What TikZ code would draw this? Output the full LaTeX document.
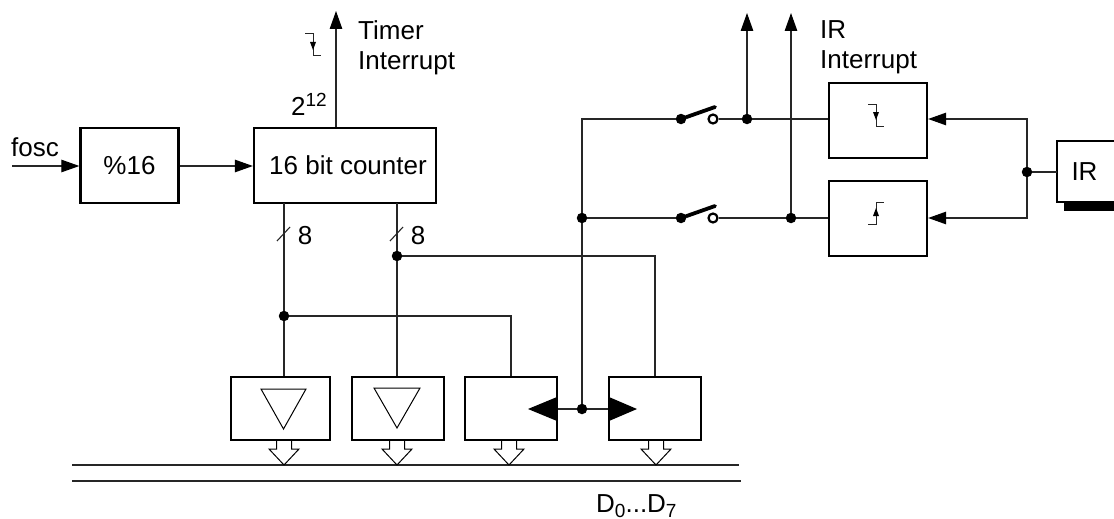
\documentclass[tikz,border=0pt]{standalone}
\usepackage{fontspec}
\setmainfont{Liberation Sans}
\usetikzlibrary{arrows.meta}
\tikzset{
  blk/.style={draw=black, line width=2.3pt, fill=white, inner sep=0pt},
  lbl/.style={font=\fontsize{26}{30}\selectfont, inner sep=0pt, align=left},
  wire/.style={line width=1.1pt, draw=black!85},
  arr/.style={wire, -{Stealth[length=18pt, width=12.5pt, inset=0pt, black]}},
  jdot/.style={circle, fill=black, inner sep=0pt, minimum size=10.5pt},
  opendot/.style={circle, draw=black, line width=2.2pt, fill=white, inner sep=0pt, minimum size=9pt},
  hollow/.style={draw=black, line width=1pt, fill=white},
  edgemark/.style={line width=1pt, draw=black!85}
}
% falling and rising edge signs
\newcommand{\edgefall}[2]{%
  \draw[edgemark] (#1-8,#2-11) -- (#1,#2-11) -- (#1,#2+11) -- (#1+8,#2+11);
  \fill (#1-3,#2-3) -- (#1+3,#2-3) -- (#1,#2+5) -- cycle;}
\newcommand{\edgerise}[2]{%
  \draw[edgemark] (#1-8,#2+11) -- (#1,#2+11) -- (#1,#2-11) -- (#1+8,#2-11);
  \fill (#1-3,#2+3) -- (#1+3,#2+3) -- (#1,#2-5) -- cycle;}
\newcommand{\supnum}[1]{\raisebox{9pt}{\fontsize{19}{19}\selectfont #1}}
\newcommand{\subnum}[1]{\raisebox{-5pt}{\fontsize{19}{19}\selectfont #1}}
\begin{document}
\begin{tikzpicture}[x=1pt, y=-1pt]
\useasboundingbox (0,0) rectangle (1114,519);

% Top row
\node[blk, lbl, minimum width=98pt, minimum height=75pt] (divbox) at (129.5,165.5) {\%16};
\node[blk, lbl, minimum width=182pt, minimum height=75pt] (cntbox) at (345,165.5) {\hspace*{6pt}16 bit counter};
\coordinate (foscin) at (12,166);
\coordinate (timerout) at (336,11);
\draw[arr] (foscin) -- (divbox.west |- foscin);
\draw[arr] (divbox.east |- foscin) -- (cntbox.west |- foscin);
\draw[arr] (cntbox.north -| timerout) -- (timerout);
\node[lbl, anchor=base west] (foscl) at (11,156) {fosc};
\node[lbl, anchor=north west] (timerl) at (358,20) {Timer\\Interrupt};
\node[lbl, anchor=base west] (powl) at (291,115) {2\supnum{12}};
\edgefall{313}{45}

% Drivers and latches
\node[blk, minimum width=99pt, minimum height=63pt] (drva) at (280.5,408.5) {};
\node[blk, minimum width=92pt, minimum height=63pt] (drvb) at (398,408.5) {};
\node[blk, minimum width=92pt, minimum height=63pt] (lata) at (511,408.5) {};
\node[blk, minimum width=92pt, minimum height=63pt] (latb) at (655,408.5) {};
\draw[line width=1pt] (261,389) -- (306,389) -- (283.5,429) -- cycle;
\draw[line width=1pt] (374,388) -- (420,388) -- (397,428) -- cycle;
\fill (557,397) -- (557,421) -- (528,409) -- cycle;
\fill (609,397) -- (609,421) -- (637,409) -- cycle;

% Counter outputs
\coordinate (lowa) at (284,203);
\coordinate (lowb) at (397,203);
\node[jdot] (dota) at (284,316) {};
\node[jdot] (dotb) at (397,256) {};
\draw[wire] (lowa) -- (dota) -- (dota |- drva.north);
\draw[wire] (lowb) -- (dotb) -- (dotb |- drvb.north);
\draw[wire] (dota) -| (lata.north);
\draw[wire] (dotb) -| (latb.north);
\draw[wire] (277,241) -- (290,227);
\draw[wire] (390,241) -- (403,227);
\node[lbl] (numa) at (305,236) {8};
\node[lbl] (numb) at (418,236) {8};

% Edge detectors
\node[blk, minimum width=98pt, minimum height=75pt] (fallbox) at (878,120.5) {};
\node[blk, minimum width=98pt, minimum height=75pt] (risebox) at (878,218.5) {};
\edgefall{876}{115}
\edgerise{876}{213}
\node[lbl, anchor=north west] (irl) at (820,20) {IR\\Interrupt};

% Sensor
\node[lbl, minimum width=57pt, minimum height=61pt] (irbox) at (1085.5,171.5) {\hspace*{-2pt}IR};
\draw[draw=black, line width=2.3pt] (irbox.north east) -- (irbox.north west) -- (irbox.south west) -- (irbox.south east);
\fill (1064,202) rectangle (1114,211);
\node[jdot] (irdot) at (1027,172) {};
\draw[wire] (irbox.west |- irdot) -- (irdot);
\coordinate (irtop) at (1027,119);
\coordinate (irbot) at (1027,218);
\draw[arr] (irdot) -- (irtop) -- (irtop -| fallbox.east);
\draw[arr] (irdot) -- (irbot) -- (irbot -| risebox.east);

% Switches
\node[jdot] (ctla) at (681,119) {};
\node[jdot] (ctlb) at (681,218) {};
\node[opendot] (opna) at (713,119) {};
\node[opendot] (opnb) at (713,218) {};
\draw[line width=3.8pt, line cap=round] (ctla) -- (715,107);
\draw[line width=3.8pt, line cap=round] (ctlb) -- (715,206);
\node[jdot] (taba) at (747,119) {};
\node[jdot] (tabb) at (791,218) {};
\coordinate (outa) at (747,13);
\coordinate (outb) at (791,13);
\draw[wire] (opna) -- (taba) -- (taba -| fallbox.west);
\draw[wire] (opnb) -- (tabb) -- (tabb -| risebox.west);
\draw[arr] (taba) -- (outa);
\draw[arr] (tabb) -- (outb);

% Control line
\node[jdot] (ctrl) at (582,218) {};
\node[jdot] (ctrb) at (582,409) {};
\draw[wire] (ctla) -- (582,119) -- (ctrl) -- (ctrb);
\draw[wire] (ctrl) -- (ctlb);
\draw[wire] (lata.east |- ctrb) -- (ctrb) -- (latb.west |- ctrb);

% Data bus
\coordinate (busa) at (72,465);
\coordinate (busb) at (739,465);
\coordinate (busc) at (72,481);
\coordinate (busd) at (741,481);
\draw[wire] (busa) -- (busb);
\draw[wire] (busc) -- (busd);
\foreach \busx in {284,397,509,656}{
  \draw[hollow] (\busx-7.5,441) -- (\busx-7.5,449) -- (\busx-15,449) -- (\busx,465)
    -- (\busx+15,449) -- (\busx+7.5,449) -- (\busx+7.5,441);
}
\node[lbl, anchor=base west] (busl) at (596,512) {D\subnum{0}...D\subnum{7}};

\end{tikzpicture}
\end{document}
